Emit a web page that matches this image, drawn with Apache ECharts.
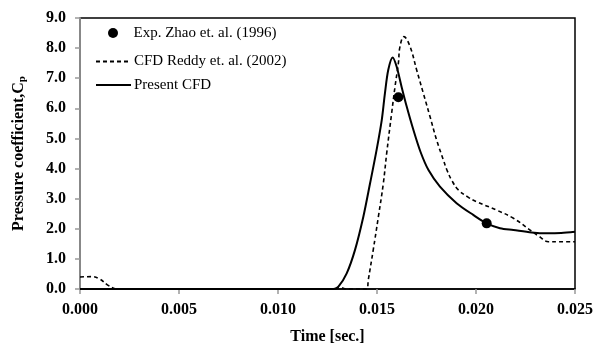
<!DOCTYPE html>
<html>
<head>
<meta charset="utf-8">
<script src="https://cdn.jsdelivr.net/npm/echarts@6/dist/echarts.min.js"></script>
<style>
  html, body { margin: 0; padding: 0; background: #fff; }
  #chart { width: 599px; height: 347px; }
</style>
</head>
<body>
<div id="chart"></div>
<script>
// Experimental points, Zhao et al. (1996)
const expTime = [0.01608, 0.02054];
const expCp = [6.37, 2.18];

// CFD results, Reddy et al. (2002)
const reddyTime = [0.0000, 0.0006, 0.0010, 0.0014, 0.0018, 0.0021, 0.0025, 0.0030, 0.0060, 0.0090, 0.0095, 0.0100, 0.0128, 0.0131, 0.0135, 0.01448,
  0.01456, 0.01481, 0.01507, 0.01532, 0.01549, 0.01574, 0.01591, 0.01608, 0.01616, 0.01636,
  0.01667, 0.01700, 0.01734, 0.01768, 0.01801, 0.01835, 0.01852, 0.01880, 0.01911, 0.01960, 0.02003,
  0.02104, 0.02189, 0.02281, 0.02320, 0.02366, 0.02420, 0.02500];
const reddyCp = [0.40, 0.41, 0.33, 0.13, 0.00, -0.05, -0.02, 0.00, 0.00, 0.00, -0.04, 0.00, 0.00, 0.05, 0.00, 0.00,
  0.30, 1.30, 2.40, 3.51, 4.51, 5.84, 6.72, 7.50, 8.05, 8.38,
  8.05, 7.28, 6.50, 5.72, 4.95, 4.29, 3.97, 3.58, 3.29, 3.05, 2.90,
  2.62, 2.35, 1.92, 1.74, 1.57, 1.57, 1.57];

// Present CFD results
const presentTime = [0.0000, 0.0128, 0.01305, 0.01347, 0.01389, 0.01431, 0.01465, 0.01498, 0.01524, 0.01540,
  0.01557, 0.01579, 0.01599, 0.01624, 0.01650, 0.01684, 0.01720, 0.01760, 0.01818, 0.01902,
  0.01986, 0.02054, 0.02121, 0.02189, 0.02281, 0.02357, 0.02430, 0.02500];
const presentCp = [0.00, 0.00, 0.08, 0.52, 1.30, 2.40, 3.51, 4.62, 5.61, 6.50,
  7.28, 7.69, 7.39, 6.72, 6.06, 5.28, 4.55, 3.95, 3.40, 2.85,
  2.46, 2.18, 2.02, 1.96, 1.88, 1.85, 1.86, 1.90];

// Axis ticks
const xTicks = [0.000, 0.005, 0.010, 0.015, 0.020, 0.025];
const yTicks = [0, 1, 2, 3, 4, 5, 6, 7, 8, 9];

const zip = (xs, ys) => xs.map((x, i) => [x, ys[i]]);

const serif = '"Liberation Serif", "Times New Roman", serif';
const names = ['Exp. Zhao et. al. (1996)', 'CFD Reddy et. al. (2002)', 'Present CFD'];

const legendBase = {
  orient: 'vertical',
  left: 95,
  padding: 0,
  itemWidth: 35,
  itemHeight: 10,
  itemGap: 0,
  selectedMode: false,
  textStyle: { fontFamily: serif, fontSize: 15, color: '#000', lineHeight: 15, padding: [0, 0, 0, -2] }
};
// line-only legend entries: hide the default marker drawn on the legend line
const lineOnly = { opacity: 0, color: 'transparent', borderWidth: 0 };

const chart = echarts.init(document.getElementById('chart'), null, { renderer: 'canvas' });
chart.setOption({
  animation: false,
  backgroundColor: '#fff',
  grid: {
    left: 80, right: 24, top: 18, bottom: 58,
    outerBoundsMode: 'none',
    show: true, borderColor: '#000', borderWidth: 1.5, backgroundColor: 'transparent'
  },
  legend: [
    Object.assign({}, legendBase, { left: 108, top: 25.5, data: [{ name: names[0], icon: 'circle' }] }),
    Object.assign({}, legendBase, { top: 54, data: [{ name: names[1], itemStyle: lineOnly }] }),
    Object.assign({}, legendBase, { top: 77.5, data: [{ name: names[2], itemStyle: lineOnly }] })
  ],
  xAxis: {
    type: 'value',
    min: xTicks[0],
    max: xTicks[xTicks.length - 1],
    interval: 0.005,
    name: 'Time [sec.]',
    nameLocation: 'middle',
    nameGap: 40,
    nameTextStyle: { fontFamily: serif, fontSize: 16, fontWeight: 'bold', color: '#000' },
    axisLine: { show: true, onZero: false, lineStyle: { color: '#000', width: 1.5 } },
    axisTick: { show: true, inside: false, length: 5, lineStyle: { color: '#999', width: 1.5 } },
    axisLabel: {
      margin: 13,
      fontFamily: serif, fontSize: 16, fontWeight: 'bold', color: '#000',
      formatter: v => v.toFixed(3)
    },
    splitLine: { show: false }
  },
  yAxis: {
    type: 'value',
    min: yTicks[0],
    max: yTicks[yTicks.length - 1],
    interval: 1,
    name: 'Pressure coefficient,C{sub|p}',
    nameLocation: 'middle',
    nameGap: 52,
    nameTextStyle: {
      fontFamily: serif, fontSize: 16, fontWeight: 'bold', color: '#000', lineHeight: 19,
      rich: {
        sub: { fontFamily: serif, fontSize: 11, fontWeight: 'bold', color: '#000', verticalAlign: 'bottom', lineHeight: 12 }
      }
    },
    axisLine: { show: true, lineStyle: { color: '#888', width: 2 } },
    axisTick: { show: true, inside: false, length: 5, lineStyle: { color: '#999', width: 1.5 } },
    axisLabel: {
      margin: 14,
      fontFamily: serif, fontSize: 16, fontWeight: 'bold', color: '#000',
      formatter: v => v.toFixed(1)
    },
    splitLine: { show: false }
  },
  series: [
    {
      name: names[0],
      type: 'scatter',
      data: zip(expTime, expCp),
      symbol: 'circle',
      symbolSize: 10,
      itemStyle: { color: '#000', opacity: 1 },
      z: 5
    },
    {
      name: names[1],
      type: 'line',
      data: zip(reddyTime, reddyCp),
      smooth: 0.4,
      symbol: 'none',
      clip: true,
      lineStyle: { color: '#000', width: 1.6, type: [4, 3] },
      itemStyle: { color: '#000' },
      z: 3
    },
    {
      name: names[2],
      type: 'line',
      data: zip(presentTime, presentCp),
      smooth: 0.3,
      symbol: 'none',
      clip: true,
      lineStyle: { color: '#000', width: 2 },
      itemStyle: { color: '#000' },
      z: 4
    }
  ]
});
</script>
</body>
</html>
